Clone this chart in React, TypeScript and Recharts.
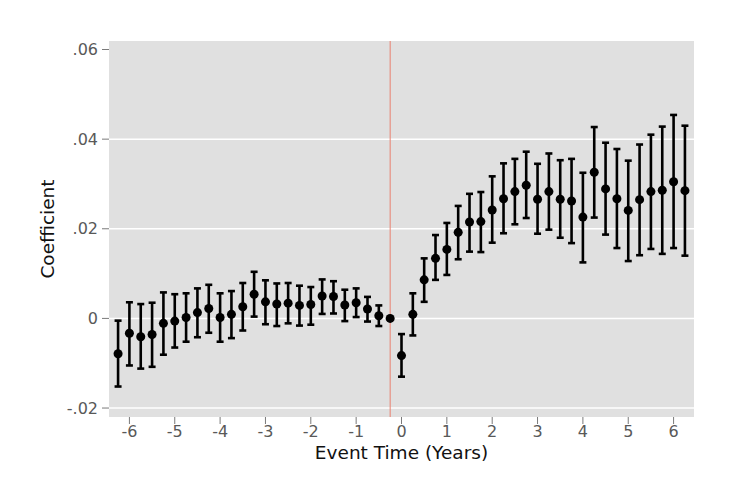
import {
  CartesianGrid,
  ErrorBar,
  ReferenceLine,
  Scatter,
  ScatterChart,
  XAxis,
  YAxis,
} from "recharts";

// event time in years (quarterly), -0.25 is the omitted reference period
const eventTimes = [
  -6.25, -6, -5.75, -5.5, -5.25, -5, -4.75, -4.5, -4.25, -4, -3.75, -3.5, -3.25,
  -3, -2.75, -2.5, -2.25, -2, -1.75, -1.5, -1.25, -1, -0.75, -0.5, -0.25, 0,
  0.25, 0.5, 0.75, 1, 1.25, 1.5, 1.75, 2, 2.25, 2.5, 2.75, 3, 3.25, 3.5, 3.75,
  4, 4.25, 4.5, 4.75, 5, 5.25, 5.5, 5.75, 6, 6.25,
];

const coefficients = [
  -0.0079, -0.0033, -0.0041, -0.0036, -0.0011, -0.0006, 0.0002, 0.0013, 0.0022,
  0.0002, 0.0009, 0.0026, 0.0054, 0.0037, 0.0032, 0.0034, 0.0029, 0.0031,
  0.005, 0.0049, 0.003, 0.0035, 0.0021, 0.0006, 0, -0.0083, 0.0009, 0.0086,
  0.0134, 0.0154, 0.0192, 0.0215, 0.0216, 0.0242, 0.0267, 0.0283, 0.0297,
  0.0266, 0.0283, 0.0266, 0.0262, 0.0226, 0.0326, 0.0289, 0.0267, 0.0241,
  0.0265, 0.0283, 0.0286, 0.0305, 0.0285,
];

const lowerCI: (number | null)[] = [
  -0.0152, -0.0105, -0.0112, -0.0108, -0.0081, -0.0065, -0.0052, -0.0042,
  -0.0032, -0.0052, -0.0044, -0.0027, 0.0004, -0.0013, -0.0017, -0.0011,
  -0.0016, -0.0014, 0.001, 0.0011, -0.0006, 0.0003, -0.0007, -0.0017, null,
  -0.013, -0.0038, 0.0037, 0.0086, 0.0097, 0.0132, 0.0149, 0.0148, 0.0169,
  0.019, 0.021, 0.0224, 0.0189, 0.0198, 0.018, 0.0168, 0.0125, 0.0225, 0.0187,
  0.0157, 0.0128, 0.0141, 0.0155, 0.0144, 0.0157, 0.014,
];

const upperCI: (number | null)[] = [
  -0.0005, 0.0036, 0.0032, 0.0035, 0.0058, 0.0054, 0.0056, 0.0067, 0.0075,
  0.0056, 0.0061, 0.0079, 0.0104, 0.0085, 0.0078, 0.0079, 0.0073, 0.007,
  0.0087, 0.0083, 0.0064, 0.0067, 0.0048, 0.0029, null, -0.0035, 0.0056,
  0.0134, 0.0186, 0.0213, 0.0251, 0.0278, 0.0282, 0.0317, 0.0346, 0.0356,
  0.0372, 0.0345, 0.0368, 0.0353, 0.0356, 0.0325, 0.0427, 0.0392, 0.0378,
  0.0352, 0.0388, 0.041, 0.0428, 0.0454, 0.043,
];

const xTicks = [-6, -5, -4, -3, -2, -1, 0, 1, 2, 3, 4, 5, 6];
const yTicks = [-0.02, 0, 0.02, 0.04, 0.06];
const gridValues = [-0.02, 0, 0.02, 0.04];
const referencePeriod = -0.25;

const rows = eventTimes.map((t, i) => ({
  t,
  coef: coefficients[i],
  lo: lowerCI[i],
  hi: upperCI[i],
}));

const estimates = rows
  .filter((r) => r.lo !== null && r.hi !== null)
  .map((r) => ({
    ...r,
    err: [r.coef - (r.lo as number), (r.hi as number) - r.coef],
  }));

const omitted = rows.filter((r) => r.lo === null);

const FONT = "'DejaVu Sans', sans-serif";
const tickStyle = { fontSize: 16, fill: "#595959", fontFamily: FONT };

const fmtY = (v: number) =>
  v === 0 ? "0" : v.toFixed(2).replace("0.", ".");

export default function App() {
  return (
    <div style={{ position: "absolute", left: 0, top: 0, background: "#fff" }}>
      <ScatterChart
        width={738}
        height={496}
        margin={{ top: 41, right: 44, bottom: 49, left: 39 }}
      >
        <CartesianGrid
          fill="#e0e0e0"
          stroke="#ffffff"
          strokeWidth={1.5}
          vertical={false}
          horizontalValues={gridValues}
        />
        <XAxis
          type="number"
          dataKey="t"
          domain={[-6.45, 6.45]}
          ticks={xTicks}
          allowDataOverflow
          height={30}
          axisLine={false}
          tickSize={7}
          tickMargin={2}
          tickLine={{ stroke: "#7a7a7a" }}
          tick={tickStyle}
          label={{
            value: "Event Time (Years)",
            position: "bottom",
            offset: -1,
            style: { fontSize: 18.5, fill: "#111", fontFamily: FONT },
          }}
        />
        <YAxis
          type="number"
          dataKey="coef"
          domain={[-0.022, 0.0619]}
          ticks={yTicks}
          allowDataOverflow
          width={70}
          axisLine={false}
          tickSize={7}
          tickMargin={4}
          tickLine={{ stroke: "#7a7a7a" }}
          tick={tickStyle}
          tickFormatter={fmtY}
          label={{
            value: "Coefficient",
            angle: -90,
            position: "insideLeft",
            offset: 8.5,
            style: {
              fontSize: 18.5,
              fill: "#111",
              fontFamily: FONT,
              textAnchor: "middle",
            },
          }}
        />
        <ReferenceLine x={referencePeriod} stroke="#e8806f" strokeWidth={1} />
        <Scatter data={estimates} fill="#000" isAnimationActive={false}>
          <ErrorBar
            dataKey="err"
            direction="y"
            width={3.5}
            strokeWidth={2.6}
            stroke="#000"
            isAnimationActive={false}
          />
        </Scatter>
        <Scatter data={omitted} fill="#000" isAnimationActive={false} />
      </ScatterChart>
    </div>
  );
}
